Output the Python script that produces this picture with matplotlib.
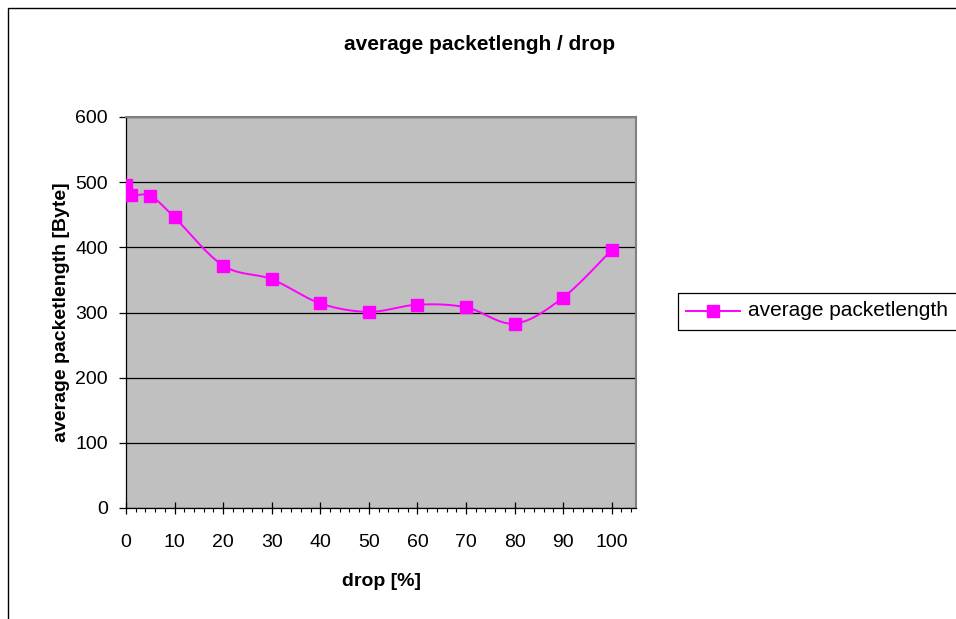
import numpy as np
import matplotlib.pyplot as plt
from matplotlib.patches import Rectangle
from matplotlib.lines import Line2D

plt.rcParams['font.family'] = ['Liberation Sans', 'DejaVu Sans']

# data
drop = [0, 1, 5, 10, 20, 30, 40, 50, 60, 70, 80, 90, 100]
packet_len = [495, 480, 479, 446, 372, 351, 314, 301, 312, 308, 283, 323, 396]
x_ticks = [0, 10, 20, 30, 40, 50, 60, 70, 80, 90, 100]
y_ticks = [0, 100, 200, 300, 400, 500, 600]

MAGENTA = '#FF00FF'


def smooth(x, y, steps=30):
    """Catmull-Rom curve through the points, like Excel's smoothed line"""
    x = np.asarray(x, float)
    y = np.asarray(y, float)
    px = np.concatenate([[x[0]], x, [x[-1]]])
    py = np.concatenate([[y[0]], y, [y[-1]]])
    xs, ys = [], []
    t = np.linspace(0, 1, steps)
    for i in range(1, len(px) - 2):
        for p, out in ((px, xs), (py, ys)):
            p0, p1, p2, p3 = p[i - 1], p[i], p[i + 1], p[i + 2]
            out.extend(0.5 * ((2 * p1) + (-p0 + p2) * t
                              + (2 * p0 - 5 * p1 + 4 * p2 - p3) * t ** 2
                              + (-p0 + 3 * p1 - 3 * p2 + p3) * t ** 3))
    return np.array(xs), np.array(ys)


fig = plt.figure(figsize=(9.56, 6.19), dpi=100)

# chart frame (cut off at right and bottom like the screenshot)
fig.patches.append(Rectangle((8 / 956, -0.1), 1.2, 1 - 8 / 619 + 0.1,
                             transform=fig.transFigure, fill=False,
                             edgecolor='black', linewidth=1.0))

ax = fig.add_axes([126 / 956, 1 - 508 / 619, 510 / 956, 391 / 619])
ax.set_facecolor('#C0C0C0')

sx, sy = smooth(drop, packet_len)
ax.plot(sx, sy, color=MAGENTA, linewidth=1.4, zorder=3)
ax.plot(drop, packet_len, linestyle='none', marker='s', markersize=8,
        color=MAGENTA, zorder=4)

ax.set_xlim(0, 105)
ax.set_ylim(0, 600)
ax.set_xticks(x_ticks)
ax.set_xticks(np.arange(0, 106, 2), minor=True)
ax.set_yticks(y_ticks)
ax.grid(axis='y', color='black', linewidth=0.9)
ax.set_axisbelow(True)

for side in ('top', 'right'):
    ax.spines[side].set_color('#808080')
    ax.spines[side].set_linewidth(1.5)
for side in ('left', 'bottom'):
    ax.spines[side].set_color('black')
    ax.spines[side].set_linewidth(0.9)

ax.tick_params(axis='both', which='major', direction='out', length=5,
               labelsize=14, width=0.9, pad=8)
ax.tick_params(axis='x', which='minor', direction='out', length=3, width=0.8)
ax.tick_params(axis='x', which='major', direction='inout', length=9, pad=14)

ax.set_xlabel('drop [%]', fontsize=14, fontweight='bold', labelpad=16)
ax.set_ylabel('average packetlength [Byte]', fontsize=14,
              fontweight='bold', labelpad=4)

fig.text(480 / 956, 1 - 45 / 619, 'average packetlengh / drop',
         ha='center', va='center', fontsize=15, fontweight='bold')

# legend box, cut off at the right edge like the reference
ly = 1 - 311 / 619
fig.patches.append(Rectangle((678 / 956, 1 - 330 / 619), 0.4, 37 / 619,
                             transform=fig.transFigure, fill=False,
                             edgecolor='black', linewidth=0.9))
fig.lines.append(Line2D([686 / 956, 740 / 956], [ly, ly],
                        transform=fig.transFigure, color=MAGENTA,
                        linewidth=1.4))
fig.lines.append(Line2D([713 / 956], [ly], transform=fig.transFigure,
                        color=MAGENTA, marker='s', markersize=8))
fig.text(748 / 956, ly, 'average packetlength', ha='left', va='center',
         fontsize=15)

fig.savefig('out.png', dpi=100)
